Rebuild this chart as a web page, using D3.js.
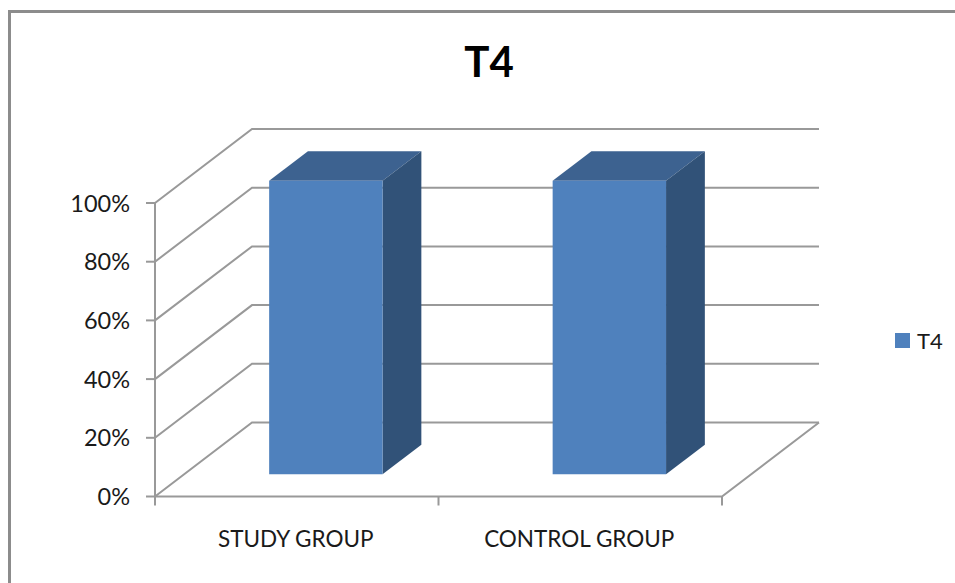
<!DOCTYPE html>
<html>
<head>
<meta charset="utf-8">
<script src="https://cdn.jsdelivr.net/npm/d3@7"></script>
<style>
html, body { margin: 0; padding: 0; background: #fff; }
svg { display: block; }
text { font-family: Lato, "Open Sans", sans-serif; fill: #1a1a1a; }
</style>
</head>
<body>
<svg id="chart" width="955" height="583"></svg>
<script>
// Chart content
const chartTitle = "T4";
const seriesName = "T4";
const categories = ["STUDY GROUP", "CONTROL GROUP"];
const seriesValues = [1, 1];
const tickValues = [0, 0.2, 0.4, 0.6, 0.8, 1];

const svg = d3.select("#chart");
const gridColor = "#999999";
const colors = { front: "#4f81bd", top: "#3d6290", side: "#315278" };

// Scales for the front plane of the 3D box
const x = d3.scaleBand().domain(categories).range([155, 722]).paddingInner(0).paddingOuter(0);
const y = d3.scaleLinear().domain([0, 1]).range([496.5, 203]);

// Oblique projection: depth 0 is the front edge of the floor, depth 1 the back wall
const depthX = d3.scaleLinear().domain([0, 1]).range([0, 97]);
const depthY = d3.scaleLinear().domain([0, 1]).range([0, -74]);
const project = (px, value, depth) => [px + depthX(depth), y(value) + depthY(depth)];
const line = d3.line();

// Chart frame (open on the right and at the bottom)
svg.append("path")
  .attr("d", "M9.5,583V11.5H955")
  .attr("fill", "none")
  .attr("stroke", "#8c8c8c")
  .attr("stroke-width", 3);

// Gridlines: side wall diagonal, then back wall horizontal
const grid = svg.append("g").attr("fill", "none").attr("stroke", gridColor).attr("stroke-width", 2);
grid.selectAll("path.grid")
  .data(tickValues)
  .join("path")
  .attr("class", "grid")
  .attr("d", v => line([project(x.range()[0], v, 0), project(x.range()[0], v, 1), project(x.range()[1], v, 1)]));

// Floor edges on the right and along the front
grid.append("path").attr("d", line([project(x.range()[0], 0, 0), project(x.range()[1], 0, 0), project(x.range()[1], 0, 1)]));

// Value axis with its outward ticks
const axisG = svg.append("g");
axisG.append("path")
  .attr("d", line([[x.range()[0], y(0)], [x.range()[0], y(1)]]))
  .attr("stroke", gridColor).attr("stroke-width", 2).attr("fill", "none");
axisG.selectAll("line.tick")
  .data(tickValues)
  .join("line")
  .attr("class", "tick")
  .attr("x1", x.range()[0] - 9).attr("x2", x.range()[0])
  .attr("y1", d => y(d)).attr("y2", d => y(d))
  .attr("stroke", gridColor).attr("stroke-width", 2);
axisG.selectAll("text")
  .data(tickValues)
  .join("text")
  .attr("x", 130).attr("y", d => y(d) + 8.5)
  .attr("text-anchor", "end")
  .attr("font-size", 23.5)
  .text(d3.format(".0%"));

// Category axis: boundaries between categories and centred labels
const boundaries = [x.range()[0], ...categories.map(c => x(c) + x.bandwidth())];
svg.append("g").selectAll("line")
  .data(boundaries)
  .join("line")
  .attr("x1", d => d).attr("x2", d => d)
  .attr("y1", y(0)).attr("y2", y(0) + 9)
  .attr("stroke", gridColor).attr("stroke-width", 2);
svg.append("g").selectAll("text")
  .data(categories)
  .join("text")
  .attr("x", d => x(d) + x.bandwidth() / 2 - 1)
  .attr("y", 547)
  .attr("text-anchor", "middle")
  .attr("font-size", 22.5)
  .text(d => d);

// Bars as three visible faces of a box
const barInset = 0.3;      // share of the band left empty on each side
const depthStart = 0.3, depthEnd = 0.7;
const bars = svg.append("g").selectAll("g")
  .data(categories.map((c, i) => ({ c, v: seriesValues[i] })))
  .join("g");
const x0 = d => x(d.c) + x.bandwidth() * barInset;
const x1 = d => x(d.c) + x.bandwidth() * (1 - barInset);
const face = pts => line(pts) + "Z";

bars.append("path").attr("fill", colors.top).attr("d", d => face([
  project(x0(d), d.v, depthStart), project(x1(d), d.v, depthStart),
  project(x1(d), d.v, depthEnd), project(x0(d), d.v, depthEnd)
]));
bars.append("path").attr("fill", colors.side).attr("d", d => face([
  project(x1(d), 0, depthStart), project(x1(d), d.v, depthStart),
  project(x1(d), d.v, depthEnd), project(x1(d), 0, depthEnd)
]));
bars.append("path").attr("fill", colors.front).attr("d", d => face([
  project(x0(d), 0, depthStart), project(x1(d), 0, depthStart),
  project(x1(d), d.v, depthStart), project(x0(d), d.v, depthStart)
]));

// Title
svg.append("text")
  .attr("x", 489).attr("y", 77)
  .attr("text-anchor", "middle")
  .attr("font-size", 42).attr("font-weight", 700)
  .style("fill", "#000")
  .text(chartTitle);

// Legend
const legend = svg.append("g");
legend.append("rect")
  .attr("x", 895).attr("y", 333).attr("width", 15).attr("height", 15)
  .attr("fill", colors.front);
legend.append("text")
  .attr("x", 917).attr("y", 349)
  .attr("font-size", 22)
  .text(seriesName);
</script>
</body>
</html>
